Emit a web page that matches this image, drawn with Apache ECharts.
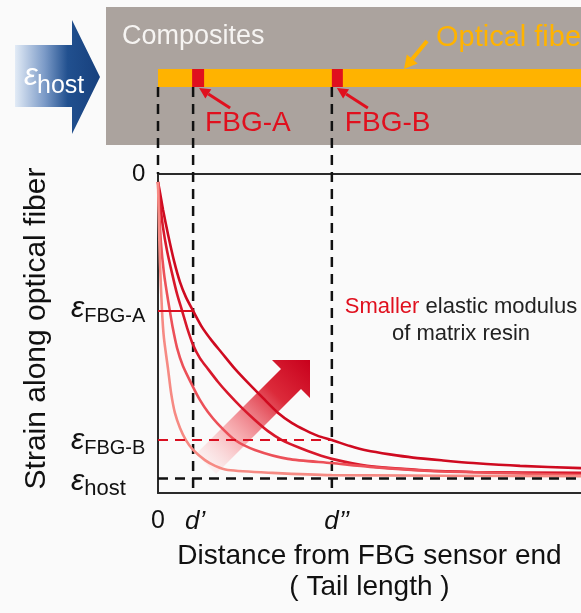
<!DOCTYPE html>
<html>
<head>
<meta charset="utf-8">
<script src="https://cdn.jsdelivr.net/npm/echarts@6/dist/echarts.min.js"></script>
<style>
  html, body { margin: 0; padding: 0; background: #fafafa; }
  #chart { width: 581px; height: 613px; }
</style>
</head>
<body>
<div id="chart"></div>
<script>
// Strain transferred into the optical fiber versus distance from the sensor end,
// for four matrix resins (softest resin = slowest strain build-up).
// x: distance (0..100 relative units), y: strain (0 at top, inverted axis).
const strainSoftest = [[0,2.5],[0.5,6.0],[1.2,11.3],[2.4,19.1],[3.8,27.3],[5.2,33.9],[6.6,38.6],[8.3,42.9],[10.4,48.0],[12.8,52.4],[15.1,56.1],[18.2,61.1],[21.3,65.5],[24.8,70.2],[28.4,74.9],[31.7,78.1],[34.8,80.3],[37.8,82.1],[41.1,83.4],[45.4,85.3],[49.4,86.7],[54.8,87.9],[60.3,88.9],[67.4,89.8],[74.5,90.6],[85.6,91.5],[100,92.2]];
const strainSoft = [[0,2.5],[0.5,9.1],[1.2,16.9],[2.1,23.8],[3.3,31.0],[4.5,37.6],[5.7,42.9],[6.9,48.3],[8.3,53.6],[9.9,57.7],[11.8,61.1],[14.2,65.2],[16.5,68.7],[19.6,73.0],[22.9,77.1],[26.0,80.6],[29.3,83.4],[33.6,85.9],[37.4,87.8],[41.1,89.3],[49.4,91.5],[61.9,92.8],[74.5,93.4],[100,93.7]];
const strainStiff = [[0,2.5],[0.24,10.7],[0.7,21.6],[1.4,31.0],[2.1,37.3],[2.8,42.9],[3.5,48.3],[4.5,54.5],[5.9,60.2],[8.3,66.8],[9.9,70.8],[11.8,74.6],[14.2,78.4],[18.2,83.4],[22.9,86.5],[30.7,89.3],[41.1,90.6],[50.1,91.8],[64.3,93.1],[80.9,93.7],[100,94.4]];
const strainStiffest = [[0,2.5],[0.24,16.9],[0.47,27.9],[0.95,42.9],[1.4,51.4],[2.4,61.4],[3.1,68.7],[4.0,74.9],[5.2,79.6],[6.6,83.4],[8.3,86.5],[11.1,89.7],[13.5,91.5],[16.5,92.8],[27.0,93.7],[41.1,94.4],[100,94.7]];

// Sensor positions along the fiber (d', d'') and strain levels read by the sensors.
const xTickValues = [0, 8.3, 41.1];
const xTickLabels = ['0', 'd\u2019', 'd\u2019\u2019'];
const yTickValues = [0, 42.9, 83.4, 95.3];
const yTickLabels = ['0', 'FBG-A', 'FBG-B', 'host'];

const FONT = '"Liberation Sans", Arial, sans-serif';
const RED = '#e0101e';
const ORANGE = '#ffb300';
const curveColors = ['#cf0a20', '#d8182b', '#ec5058', '#f68a83'];

const chart = echarts.init(document.getElementById('chart'));

const curveSeries = [strainSoftest, strainSoft, strainStiff, strainStiffest].map((d, i) => ({
  type: 'line',
  data: d,
  showSymbol: false,
  smooth: 0.25,
  z: 4,
  silent: true,
  lineStyle: { color: curveColors[i], width: 2.6 },
}));

// epsilon with a lowered subscript; tokens are centred in the line, so padding shifts them.
const yRich = {
  z0: { fontSize: 24, fontFamily: FONT, color: '#111', padding: [0, 0, 0, 61] },
  eA: { fontSize: 30, fontFamily: FONT, fontStyle: 'italic', color: '#111', lineHeight: 24, padding: [0, 0, 5, 0] },
  sA: { fontSize: 20, fontFamily: FONT, color: '#111', lineHeight: 14, padding: [12, 0, 0, 0] },
  eB: { fontSize: 30, fontFamily: FONT, fontStyle: 'italic', color: '#111', lineHeight: 24, padding: [1, 0, 0, 0] },
  sB: { fontSize: 20, fontFamily: FONT, color: '#111', lineHeight: 14, padding: [16, 0, 0, 0] },
  eH: { fontSize: 30, fontFamily: FONT, fontStyle: 'italic', color: '#111', lineHeight: 24, padding: [7, 0, 0, 0] },
  sH: { fontSize: 22, fontFamily: FONT, color: '#111', lineHeight: 14, padding: [21, 0, 0, 0] },
};
const yStyleKeys = [null, ['eA', 'sA'], ['eB', 'sB'], ['eH', 'sH']];

function strainLabel(v) {
  const i = yTickValues.indexOf(v);
  if (i === 0) return '{z0|' + yTickLabels[0] + '}';
  const k = yStyleKeys[i];
  return '{' + k[0] + '|\u03b5}{' + k[1] + '|' + yTickLabels[i] + '}';
}

// two stacked left axes share the same scale, so the close FBG-B / host labels both stay visible
function strainAxis(values, primary) {
  return {
    type: 'value', min: 0, max: 100, inverse: true, position: 'left',
    axisLine: { show: primary, onZero: false, lineStyle: { color: '#2a2a2a', width: 2 } },
    axisTick: { show: false }, splitLine: { show: false },
    axisLabel: {
      customValues: values,
      hideOverlap: false,
      showMinLabel: true,
      showMaxLabel: true,
      align: 'left',
      margin: 87,
      formatter: strainLabel,
      rich: yRich,
    },
    name: primary ? 'Strain along optical fiber' : '',
    nameLocation: 'middle',
    nameGap: 106,
    nameRotate: 90,
    nameTextStyle: { fontSize: 30, fontFamily: FONT, color: '#111', padding: [0, 0, 0, 10] },
  };
}

const option = {
  backgroundColor: '#fafafa',
  animation: false,
  grid: { left: 158, top: 174, right: 0, bottom: 120 },
  xAxis: [
    {
      type: 'value', min: 0, max: 100, position: 'bottom',
      axisLine: { show: true, onZero: false, lineStyle: { color: '#2a2a2a', width: 2 } },
      axisTick: { show: false }, splitLine: { show: false },
      axisLabel: {
        customValues: xTickValues,
        hideOverlap: false,
        showMinLabel: true,
        showMaxLabel: true,
        margin: 16,
        formatter: v => {
          const i = xTickValues.indexOf(v);
          return i === 0 ? '{n|' + xTickLabels[i] + '}' : (i === 1 ? '{d1|' : '{d2|') + xTickLabels[i] + '}';
        },
        rich: {
          n: { fontSize: 25, fontFamily: FONT, color: '#111' },
          d1: { fontSize: 26, fontFamily: FONT, fontStyle: 'italic', color: '#111', padding: [0, 0, 0, 4] },
          d2: { fontSize: 26, fontFamily: FONT, fontStyle: 'italic', color: '#111', padding: [0, 0, 0, 10] },
        },
      },
      name: 'Distance from FBG sensor end\n( Tail length )',
      nameLocation: 'middle',
      nameGap: 48,
      nameTextStyle: { fontSize: 28, fontFamily: FONT, color: '#111', lineHeight: 31 },
    },
    {
      type: 'value', min: 0, max: 100, position: 'top',
      axisLine: { show: true, onZero: false, lineStyle: { color: '#2a2a2a', width: 2 } },
      axisTick: { show: false }, axisLabel: { show: false }, splitLine: { show: false },
    },
  ],
  yAxis: [
    strainAxis([yTickValues[0], yTickValues[1], yTickValues[3]], true),
    strainAxis([yTickValues[2]], false),
  ],
  series: [
    {
      type: 'line', data: [], z: 3, silent: true,
      markLine: {
        silent: true, symbol: 'none', label: { show: false },
        data: [
          [{ coord: [xTickValues[0], yTickValues[1]], lineStyle: { type: 'solid', color: '#d90f21', width: 2 } }, { coord: [xTickValues[1], yTickValues[1]] }],
          [{ coord: [xTickValues[0], yTickValues[2]], lineStyle: { type: [10, 7], color: '#d90f21', width: 2 } }, { coord: [xTickValues[2], yTickValues[2]] }],
          [{ coord: [xTickValues[0], yTickValues[3]], lineStyle: { type: [10, 7], color: '#111', width: 2.5 } }, { coord: [100, yTickValues[3]] }],
        ],
      },
    },
    ...curveSeries,
  ],
};
chart.setOption(option);

// ---- schematic of the specimen above the plot ----
const toPx = (x, y) => chart.convertToPixel({ seriesIndex: 1 }, [x, y]);
const x0 = toPx(xTickValues[0], 0)[0];
const xA = toPx(xTickValues[1], 0)[0];
const xB = toPx(xTickValues[2], 0)[0];
const yTop = toPx(0, yTickValues[0])[1];
const yLow = toPx(0, 99)[1];

function arrow(tail, tip, color, width, headLen, headHalf, z) {
  const dx = tip[0] - tail[0], dy = tip[1] - tail[1];
  const len = Math.hypot(dx, dy);
  const ux = dx / len, uy = dy / len;
  const bx = tip[0] - ux * headLen, by = tip[1] - uy * headLen;
  const nx = -uy, ny = ux;
  return [
    { type: 'line', z: z, silent: true, shape: { x1: tail[0], y1: tail[1], x2: bx, y2: by }, style: { stroke: color, lineWidth: width } },
    { type: 'polygon', z: z, silent: true, shape: { points: [tip, [bx + nx * headHalf, by + ny * headHalf], [bx - nx * headHalf, by - ny * headHalf]] }, style: { fill: color } },
  ];
}

const dash = { stroke: '#111', lineWidth: 2.5, lineDash: [10, 7] };
const fiberTop = 69, fiberH = 18, fiberBottom = fiberTop + fiberH;

const graphics = [
  { type: 'rect', z: 0, silent: true, shape: { x: 106, y: 7, width: 581 - 106, height: 138 }, style: { fill: '#aba39e' } },
  { type: 'text', z: 1, silent: true, x: 122, y: 37, style: { text: 'Composites', fontSize: 27, fontFamily: FONT, fill: '#f6f4f2', verticalAlign: 'middle' } },
  { type: 'text', z: 1, silent: true, x: 436, y: 38, style: { text: 'Optical fiber', fontSize: 29, fontFamily: FONT, fill: ORANGE, verticalAlign: 'middle' } },
  ...arrow([427, 41], [404, 69], ORANGE, 4, 13, 7, 1),
  { type: 'rect', z: 1, silent: true, shape: { x: x0, y: fiberTop, width: 581 - x0, height: fiberH }, style: { fill: ORANGE } },
  { type: 'rect', z: 2, silent: true, shape: { x: xA - 1, y: fiberTop, width: 12, height: fiberH }, style: { fill: RED } },
  { type: 'rect', z: 2, silent: true, shape: { x: xB, y: fiberTop, width: 11, height: fiberH }, style: { fill: RED } },
  { type: 'text', z: 2, silent: true, x: xA + 12, y: 123, style: { text: 'FBG-A', fontSize: 28, fontFamily: FONT, fill: RED, verticalAlign: 'middle' } },
  { type: 'text', z: 2, silent: true, x: xB + 13, y: 123, style: { text: 'FBG-B', fontSize: 28, fontFamily: FONT, fill: RED, verticalAlign: 'middle' } },
  ...arrow([xA + 37, 108], [xA + 6, 88], RED, 3, 11, 5.5, 2),
  ...arrow([xB + 36, 108], [xB + 5, 88], RED, 3, 11, 5.5, 2),
  // dashed guides from the fiber down to the strain plot
  { type: 'line', z: 2, silent: true, shape: { x1: x0, y1: fiberBottom, x2: x0, y2: yTop }, style: dash },
  { type: 'line', z: 2, silent: true, shape: { x1: xA, y1: fiberBottom, x2: xA, y2: yLow }, style: dash },
  { type: 'line', z: 2, silent: true, shape: { x1: xB, y1: fiberBottom, x2: xB, y2: yLow }, style: dash },
  // host strain arrow on the left
  {
    type: 'polygon', z: 1, silent: true,
    shape: { points: [[15, 45], [72, 45], [72, 20], [100, 77], [72, 134], [72, 107], [15, 107]] },
    style: {
      fill: new echarts.graphic.LinearGradient(0, 0, 1, 0, [
        { offset: 0, color: '#e2ebf6' },
        { offset: 0.35, color: '#7b9ac7' },
        { offset: 0.62, color: '#21508f' },
        { offset: 1, color: '#17407d' },
      ]),
    },
  },
  { type: 'text', z: 2, silent: true, x: 24, y: 76, style: { text: '\u03b5', fontSize: 31, fontStyle: 'italic', fontFamily: FONT, fill: '#ffffff', verticalAlign: 'middle' } },
  { type: 'text', z: 2, silent: true, x: 37, y: 86, style: { text: 'host', fontSize: 25, fontFamily: FONT, fill: '#ffffff', verticalAlign: 'middle' } },
  // trend arrow: softer resin
  {
    type: 'polygon', z: 1, silent: true,
    shape: { points: [[310, 360], [310, 398], [301, 389], [216, 474], [196, 454], [281, 369], [272, 360]] },
    style: {
      fill: new echarts.graphic.LinearGradient(0, 1, 1, 0, [
        { offset: 0, color: 'rgba(255,235,235,0.15)' },
        { offset: 0.35, color: 'rgba(246,150,155,0.75)' },
        { offset: 0.7, color: '#dc2a3a' },
        { offset: 1, color: '#c8001c' },
      ]),
    },
  },
  {
    type: 'text', z: 2, silent: true, x: 461, y: 320,
    style: {
      text: '{r|Smaller} elastic modulus\nof matrix resin',
      fontSize: 22, fontFamily: FONT, fill: '#222', align: 'center', verticalAlign: 'middle', lineHeight: 27,
      rich: { r: { fill: RED, fontSize: 22, fontFamily: FONT, lineHeight: 27 } },
    },
  },
];

chart.setOption({ graphic: graphics });
</script>
</body>
</html>
